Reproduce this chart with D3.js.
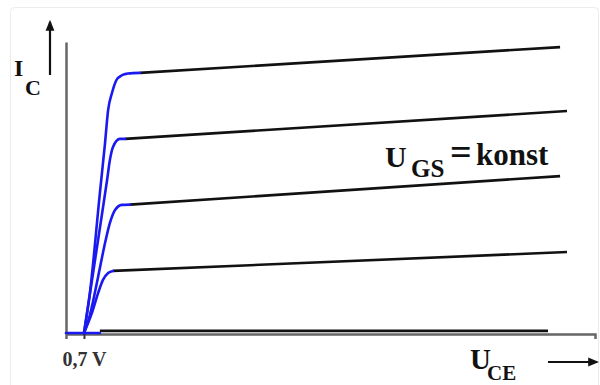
<!DOCTYPE html>
<html>
<head>
<meta charset="utf-8">
<script src="https://d3js.org/d3.v7.min.js"></script>
<style>
  body { margin: 0; background: #fff; }
  svg { display: block; }
  text { font-family: Liberation Serif, DejaVu Serif, serif; }
</style>
</head>
<body>
<svg id="chart" width="600" height="385"></svg>
<script>
// rising (blue) part of each characteristic, [U_CE, I_C]
const rise1 = [[0.7, 0], [0.93, 1.33], [1.32, 4.67], [1.52, 6.33], [1.64, 7.43], [1.79, 8.0], [2.02, 8.5], [2.41, 8.65], [2.88, 8.67]];
const rise2 = [[0.7, 0], [1.32, 3.5], [1.6, 5.1], [1.71, 5.77], [1.83, 6.2], [2.1, 6.47], [2.3, 6.47]];
const rise3 = [[0.7, 0], [0.93, 0.6], [1.25, 1.87], [1.52, 3.0], [1.71, 3.67], [1.91, 4.1], [2.18, 4.27], [2.49, 4.28]];
const rise4 = [[0.7, 0], [1.01, 0.67], [1.25, 1.33], [1.44, 1.77], [1.64, 2.0], [1.83, 2.07]];
const rise5 = [[0, 0], [1.32, 0]];
const risingParts = [rise1, rise2, rise3, rise4, rise5];

// flat (black) part: start and end points
const flatStart = [[2.88, 8.67], [2.3, 6.47], [2.49, 4.28], [1.83, 2.07], [1.32, 0.07]];
const flatEnd = [[19.24, 9.53], [19.51, 7.4], [19.24, 5.23], [19.51, 2.7], [18.77, 0.07]];

const thresholdU = [0.7];
const thresholdLabel = ['0,7 V'];

const serif = 'Liberation Serif, DejaVu Serif, serif';
const svg = d3.select('svg#chart');

// faint frame of the original picture
svg.append('rect')
    .attr('x', 10.5).attr('y', 7.5)
    .attr('width', 588).attr('height', 400)
    .attr('rx', 4)
    .attr('fill', 'none')
    .attr('stroke', '#ececec');

const x = d3.scaleLinear().domain([0, 20.6]).range([66, 595]);
const y = d3.scaleLinear().domain([0, 9.7]).range([333, 42]);

// axes
const xaxis = svg.append('g')
    .attr('transform', 'translate(0,' + (y(0) + 1) + ')')
    .call(d3.axisBottom(x)
        .tickValues(thresholdU)
        .tickFormat((d, i) => thresholdLabel[i])
        .tickSizeOuter(0)
        .tickSize(5)
        .tickPadding(13));
xaxis.attr('font-family', serif);
xaxis.select('.domain').attr('stroke', '#666').attr('stroke-width', 2.5);
xaxis.selectAll('.tick line').attr('stroke', '#333').attr('stroke-width', 2);
xaxis.selectAll('.tick text')
    .attr('font-weight', 'bold')
    .attr('font-size', 20)
    .attr('fill', '#333');

const yaxis = svg.append('g')
    .attr('transform', 'translate(' + x(0) + ',0)')
    .call(d3.axisLeft(y).tickValues([]).tickSizeOuter(0));
yaxis.select('.domain').attr('stroke', '#666').attr('stroke-width', 2.5);

// curves
const line = d3.line()
    .x(d => x(d[0]))
    .y(d => y(d[1]))
    .curve(d3.curveMonotoneX);

svg.append('g').selectAll('path.flat')
    .data(flatStart)
    .join('path')
    .attr('class', 'flat')
    .attr('d', (d, i) => d3.line().x(p => x(p[0])).y(p => y(p[1]))([d, flatEnd[i]]))
    .attr('fill', 'none')
    .attr('stroke', '#111')
    .attr('stroke-width', 2.6);

svg.append('g').selectAll('path.rise')
    .data(risingParts)
    .join('path')
    .attr('class', 'rise')
    .attr('d', line)
    .attr('fill', 'none')
    .attr('stroke', '#1a1af0')
    .attr('stroke-width', 2.6)
    .attr('stroke-linecap', 'round');

// arrows
svg.append('defs').append('marker')
    .attr('id', 'head')
    .attr('viewBox', '0 0 10 10')
    .attr('refX', 8).attr('refY', 5)
    .attr('markerWidth', 5).attr('markerHeight', 5)
    .attr('orient', 'auto')
    .append('path')
    .attr('d', 'M0,1 L10,5 L0,9 Z')
    .attr('fill', '#111');

svg.append('line')
    .attr('x1', 50).attr('y1', 75).attr('x2', 50).attr('y2', 22)
    .attr('stroke', '#111').attr('stroke-width', 2.2)
    .attr('marker-end', 'url(#head)');

svg.append('line')
    .attr('x1', 548).attr('y1', 362).attr('x2', 597).attr('y2', 362)
    .attr('stroke', '#111').attr('stroke-width', 2.2)
    .attr('marker-end', 'url(#head)');

// labels
const label = (xp, yp, size, txt) => svg.append('text')
    .attr('x', xp).attr('y', yp)
    .attr('font-family', serif)
    .attr('font-weight', 'bold')
    .attr('font-size', size)
    .attr('fill', '#111')
    .text(txt);

label(14, 76, 24, 'I');
label(25, 95, 22, 'C');

label(385, 167, 30, 'U');
label(411, 177, 25, 'GS');
label(450, 165, 38, '=');
label(476, 165, 31, 'konst');

label(470, 369, 29, 'U');
label(487, 380, 21, 'CE');
</script>
</body>
</html>
